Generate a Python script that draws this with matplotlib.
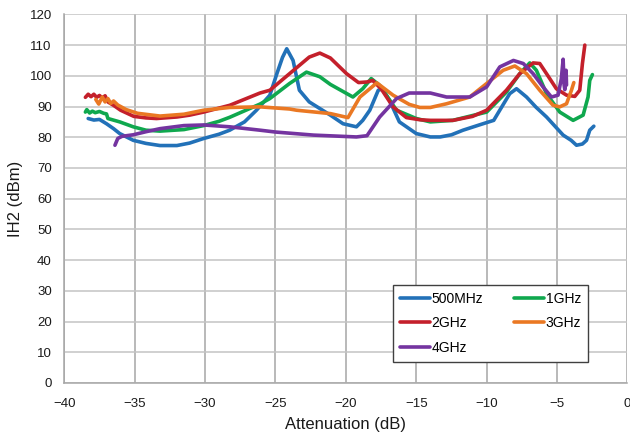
import numpy as np
import matplotlib
matplotlib.use('Agg')
import matplotlib.pyplot as plt

plt.rcParams['font.family'] = ['Liberation Sans', 'DejaVu Sans']

# values
x_500m = [-38.3, -37.9, -37.5, -37.0, -36.5, -36.06, -35.1, -34.2, -33.2, -32.0, -31.1, -30.1, -29.0,
          -28.25, -27.2, -26.35, -25.4, -24.9, -24.5, -24.2, -23.75, -23.3, -22.6, -21.1, -20.2,
          -19.25, -18.8, -18.3, -17.7, -17.4, -16.9, -16.2, -15.0, -14.0, -13.3, -12.5, -11.68,
          -10.26, -9.5, -9.07, -8.36, -7.88, -7.17, -6.5, -5.75, -4.57, -4.0, -3.62, -3.2, -2.91,
          -2.68, -2.39]
y_500m = [86.1, 85.6, 85.8, 84.4, 82.8, 81.2, 79.0, 78.0, 77.3, 77.3, 78.1, 79.6, 81.0,
          82.3, 85.0, 88.8, 93.7, 100.7, 106.0, 108.8, 105.0, 95.3, 91.5, 87.2, 84.4,
          83.4, 85.5, 88.8, 95.3, 95.8, 92.0, 85.0, 81.2, 80.1, 80.1, 80.8, 82.3,
          84.4, 85.5, 88.8, 94.2, 95.8, 93.1, 89.8, 86.6, 80.7, 79.0, 77.4, 77.8, 79.0,
          82.3, 83.6]

x_1g = [-38.5, -38.4, -38.2, -38.0, -37.8, -37.5, -37.2, -37.0, -36.9, -36.06, -35.1, -34.2, -33.2,
        -31.5, -30.1, -29.0, -28.25, -27.0, -26.1, -25.4, -24.0, -22.8, -21.85, -21.1, -19.5,
        -18.8, -18.2, -17.6, -16.4, -15.0, -14.0, -12.4, -10.0, -8.6, -7.65, -6.94, -6.47,
        -5.75, -4.81, -3.86, -3.15, -2.8, -2.68, -2.49]
y_1g = [88.2, 89.0, 87.9, 88.5, 88.0, 88.4, 87.8, 87.6, 86.1, 85.0, 83.4, 82.3, 82.0,
        82.5, 83.8, 85.2, 86.5, 89.0, 90.8, 92.6, 97.5, 101.2, 99.7, 97.2, 93.1,
        95.8, 99.1, 96.9, 88.8, 86.1, 85.0, 85.5, 88.2, 94.7, 100.7, 104.2, 101.8,
        94.2, 88.2, 85.5, 87.2, 93.1, 98.5, 100.4]

x_2g = [-38.5, -38.3, -38.1, -37.9, -37.7, -37.5, -37.3, -37.1, -36.9, -36.5, -36.0, -35.06, -34.2,
        -33.45, -32.0, -31.1, -30.1, -28.25, -26.1, -25.4, -24.0, -22.6, -21.85, -21.1, -19.95,
        -19.1, -18.5, -18.1, -17.5, -16.65, -15.7, -14.75, -14.0, -12.4, -11.0, -10.0, -8.6,
        -7.65, -6.7, -6.23, -5.75, -5.05, -4.33, -3.74, -3.39, -3.2, -3.03]
y_2g = [93.0, 94.0, 93.2, 94.0, 93.0, 93.6, 92.8, 93.5, 91.5, 90.4, 88.8, 86.8, 86.3,
        86.1, 86.6, 87.2, 88.2, 90.4, 94.4, 95.3, 100.7, 106.1, 107.4, 105.8, 100.7,
        97.8, 98.0, 98.5, 95.8, 89.9, 86.4, 85.7, 85.5, 85.5, 86.8, 88.8, 95.3,
        100.7, 104.2, 104.0, 100.7, 95.8, 93.7, 93.3, 95.3, 104.0, 110.0]

x_3g = [-37.76, -37.55, -37.3, -37.1, -36.9, -36.7, -36.5, -36.2, -35.6, -34.8, -33.2, -31.5, -30.1,
        -28.25, -26.1, -24.0, -23.5, -21.1, -19.85, -19.0, -17.8, -16.65, -15.5, -14.75, -14.0,
        -12.85, -11.2, -10.0, -8.83, -8.0, -7.17, -6.23, -5.28, -4.81, -4.33, -3.98, -3.81]
y_3g = [92.3, 90.8, 93.1, 91.5, 92.6, 91.0, 91.8, 90.5, 89.0, 87.8, 86.9, 87.5, 88.8,
        89.7, 89.9, 89.2, 88.8, 87.7, 86.4, 93.1, 97.7, 93.7, 90.7, 89.7, 89.7,
        90.9, 93.1, 97.5, 101.8, 103.2, 100.7, 95.3, 90.4, 89.9, 90.9, 95.3, 97.8]

x_4g = [-36.4, -36.3, -36.2, -35.9, -35.1, -34.2, -33.2, -31.5, -30.1, -28.25, -26.1, -25.0, -22.3,
        -19.25, -18.5, -17.6, -16.4, -15.5, -14.0, -12.85, -11.2, -10.0, -9.07, -8.1, -7.4,
        -6.7, -6.0, -5.4, -4.93, -4.7, -4.57, -4.5, -4.45, -4.36, -4.33]
y_4g = [77.4, 78.5, 79.6, 80.3, 80.8, 81.8, 82.8, 83.8, 84.0, 83.4, 82.3, 81.7, 80.7,
        80.1, 80.5, 86.6, 92.6, 94.4, 94.4, 93.1, 93.1, 96.4, 102.9, 105.0, 104.0,
        100.7, 96.4, 93.1, 93.7, 99.0, 105.4, 97.0, 95.5, 101.8, 97.0]

series = [('500MHz', x_500m, y_500m, '#2271b8'),
          ('1GHz', x_1g, y_1g, '#0fa84e'),
          ('2GHz', x_2g, y_2g, '#c4202b'),
          ('3GHz', x_3g, y_3g, '#ea7823'),
          ('4GHz', x_4g, y_4g, '#7434a0')]

fig, ax = plt.subplots(figsize=(6.3, 4.36), dpi=100)
fig.subplots_adjust(left=0.102, right=0.996, top=0.967, bottom=0.1216)

lines = {}
for name, xs, ys, col in series:
    l, = ax.plot(xs, ys, color=col, lw=2.6, label=name, solid_capstyle='round', solid_joinstyle='round')
    lines[name] = l

ax.set_xlim(-40, 0)
ax.set_ylim(0, 120)
ax.set_xticks(np.arange(-40, 1, 5))
ax.set_yticks(np.arange(0, 121, 10))
ax.xaxis.grid(True, color='#a6a6a6', lw=1.1)
ax.yaxis.grid(True, color='#c4c4c4', lw=1.1)
ax.set_axisbelow(True)
for s in ['top', 'right']:
    ax.spines[s].set_visible(False)
for s in ['left', 'bottom']:
    ax.spines[s].set_color('#a6a6a6')
    ax.spines[s].set_linewidth(1.1)
ax.tick_params(axis='both', length=0, labelsize=9.5, colors='#1a1a1a')
ax.tick_params(axis='x', pad=11)
ax.tick_params(axis='y', pad=9)

ax.set_xlabel('Attenuation (dB)', fontsize=12, labelpad=5, color='#1a1a1a')
ax.set_ylabel('IH2 (dBm)', fontsize=12, labelpad=5, color='#1a1a1a')

# legend filled row by row like the original
order = ['500MHz', '2GHz', '4GHz', '1GHz', '3GHz']
leg = ax.legend([lines[n] for n in order], order,
                loc='upper left', bbox_to_anchor=(0.583, 0.266), ncol=2, fontsize=10,
                frameon=True, fancybox=False, borderaxespad=0, handlelength=2.2,
                handletextpad=0.1, columnspacing=2.2, labelspacing=0.75,
                borderpad=0.5)
leg.get_frame().set_edgecolor('#404040')
leg.get_frame().set_linewidth(1.0)
leg.get_frame().set_alpha(1)

fig.savefig('out.png', dpi=100)
